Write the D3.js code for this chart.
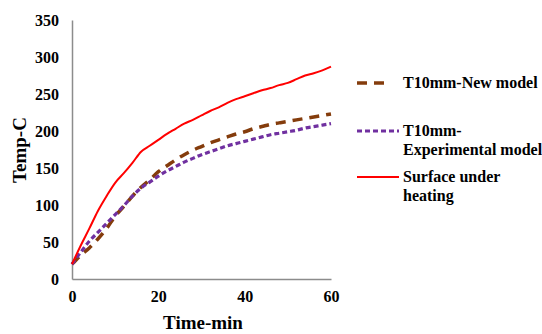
<!DOCTYPE html>
<html><head><meta charset="utf-8">
<script src="https://cdn.jsdelivr.net/npm/d3@7"></script>
<style>body{margin:0;background:#fff}svg{display:block}</style>
</head><body>
<script>
const times = [0,2,4,6,8,10,12,14,16,18,20,22,24,26,28,30,32,34,36,38,40,42,44,46,48,50,52,54,56,58,60];
const newModel = [20,32,42,54,68,85,98,112,124,134,145,153,161,168,174,179,184,188,192,196,199,203,206,209,211,213,215,217,219,221,223];
const experimental = [20,36,51,63,75,87,99,112,123,131,139,146,152,158,163,168,172,176,180,183,186,189,192,195,197,199,201,204,206,208,210];
const surface = [20,45,68,92,112,130,143,157,172,180,188,196,203,210,215,221,227,232,238,243,247,251,255,258,262,265,270,275,278,282,287];
const xTicks = [0,20,40,60];
const yTicks = [0,50,100,150,200,250,300,350];
const seriesNames = ["T10mm-New model","T10mm-Experimental model","Surface under heating"];

const FONT="'Liberation Serif', 'Times New Roman', serif";
const W=542,H=334;
const svg=d3.select("body").append("svg").attr("width",W).attr("height",H);
const x=d3.scaleLinear().domain([0,60]).range([72,331]);
const y=d3.scaleLinear().domain([0,350]).range([279,20]);

const xAxis=svg.append("g").attr("transform","translate(0,279)")
  .call(d3.axisBottom(x).tickValues(xTicks).tickSize(0).tickPadding(12));
const yAxis=svg.append("g").attr("transform","translate(72,0)")
  .call(d3.axisLeft(y).tickValues(yTicks).tickSize(0).tickPadding(13));
[xAxis,yAxis].forEach(a=>{
  a.attr("font-family",FONT).attr("font-size",16);
  a.select(".domain").attr("stroke","#8c8c8c").attr("stroke-width",1.5);
  a.selectAll("text").attr("font-weight","bold").attr("fill","#000");
});

svg.append("text").attr("x",203).attr("y",329).attr("text-anchor","middle").attr("font-size",19).text("Time-min");
svg.append("text").attr("transform","translate(26,150) rotate(-90)").attr("text-anchor","middle").attr("font-size",19).text("Temp-C");

const styles=[
  {data:newModel,color:"#843C0C",w:3.5,dash:"10,7"},
  {data:experimental,color:"#7030A0",w:3.2,dash:"5,3"},
  {data:surface,color:"#FF0000",w:2,dash:null}
];
const line=d3.line().x((d,i)=>x(times[i])).y(d=>y(d)).curve(d3.curveMonotoneX);
styles.forEach(s=>{
  svg.append("path").datum(s.data).attr("d",line).attr("fill","none")
    .attr("stroke",s.color).attr("stroke-width",s.w).attr("stroke-dasharray",s.dash);
});

const leg=[
  {y:83,lines:["T10mm-New model"],x2:390},
  {y:131,lines:["T10mm-","Experimental model"],x2:399},
  {y:177,lines:["Surface under","heating"],x2:399}
];
leg.forEach((l,i)=>{
  const s=styles[i];
  svg.append("line").attr("x1",357).attr("x2",l.x2).attr("y1",l.y).attr("y2",l.y)
    .attr("stroke",s.color).attr("stroke-width",s.w).attr("stroke-dasharray",s.dash);
  const t=svg.append("text").attr("x",403).attr("y",l.y+5).attr("font-size",16);
  l.lines.forEach((ln,j)=>t.append("tspan").attr("x",403).attr("dy",j?19:0).text(ln));
});
svg.selectAll("text").attr("font-family",FONT).attr("font-weight","bold").attr("fill","#000")
  .style("font-family",FONT);
</script>
</body></html>
